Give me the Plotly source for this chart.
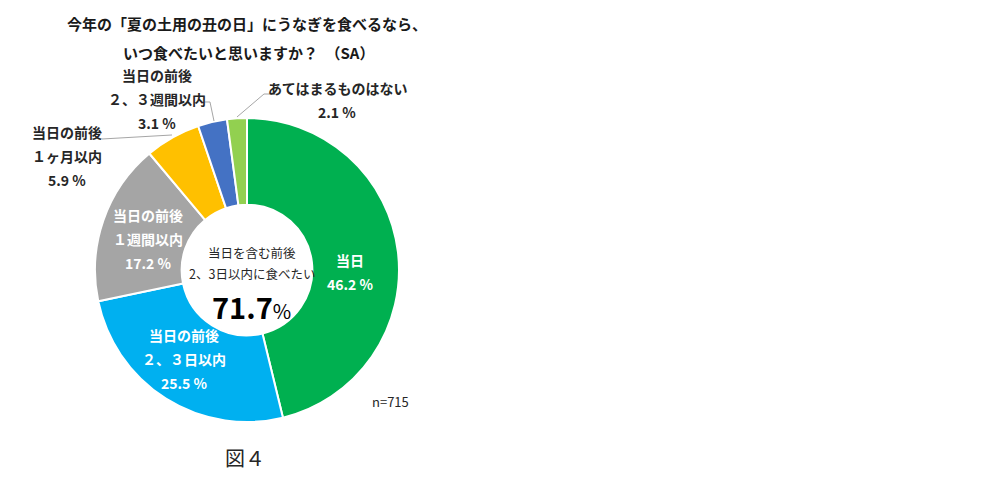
import plotly.graph_objects as go

# data
labels = ['当日', '当日の前後 ２、３日以内', '当日の前後 １週間以内',
          '当日の前後 １ヶ月以内', '当日の前後 ２、３週間以内', 'あてはまるものはない']
values = [46.2, 25.5, 17.2, 5.9, 3.1, 2.1]
colors = ['#00B050', '#00B0F0', '#A5A5A5', '#FFC000', '#4472C4', '#92D050']
label_lines = [['当日'], ['当日の前後', '２、３日以内'], ['当日の前後', '１週間以内'],
               ['当日の前後', '１ヶ月以内'], ['当日の前後', '２、３週間以内'],
               ['あてはまるものはない']]

W, H = 983, 480
OFF = 8  # page body margin
FONT = 'Noto Sans CJK JP'


def px(x, y):
    return (x - OFF) / W, 1 - (y - OFF) / H


CX, CY, R = 247 - OFF, 270 - OFF, 152

fig = go.Figure(go.Pie(
    labels=labels, values=values, sort=False, direction='clockwise',
    hole=0.43, textinfo='none', hoverinfo='label+percent',
    marker=dict(colors=colors, line=dict(color='white', width=2)),
    domain=dict(x=[(CX - R) / W, (CX + R) / W],
                y=[1 - (CY + R) / H, 1 - (CY - R) / H]),
    showlegend=False,
))

annotations = []


def add_text(x, y, text, size=14, color='#262626', bold=True):
    xx, yy = px(x, y)
    if bold:
        text = '<b>' + text + '</b>'
    annotations.append(dict(x=xx, y=yy, xref='paper', yref='paper', text=text,
                            showarrow=False, xanchor='center', yanchor='middle',
                            font=dict(family=FONT, size=size, color=color)))


# label positions (px) for each slice, first line; lines spaced 24px
label_pos = [(350, 260, 'white'), (184, 335, 'white'), (148, 215, 'white'),
             (67, 132, '#262626'), (157, 75, '#262626'), (337, 88, '#262626')]
for lines, v, (x, y, c) in zip(label_lines, values, label_pos):
    for i, t in enumerate(lines + ['%.1f %%' % v]):
        add_text(x, y + i * 24, t, color=c)

# title
add_text(247, 23, '今年の「夏の土用の丑の日」にうなぎを食べるなら、', size=15, color='#1a1a1a')
add_text(248, 52, 'いつ食べたいと思いますか？　（SA）', size=15, color='#1a1a1a')

# centre text
add_text(252, 252, '当日を含む前後', size=12.5, color='#262626', bold=False)
add_text(252, 273, '2、3日以内に食べたい', size=12.5, color='#262626', bold=False)
add_text(251, 306, '<b><span style="font-size:29px">71.7</span></b>%', size=20,
         color='#000000', bold=False)

add_text(390, 401, 'n=715', size=13, color='#262626', bold=False)
add_text(245, 457, '図４', size=20, color='#262626', bold=False)

# leader lines
leaders = [[(102, 139), (172, 135)],
           [(205, 102), (210, 102), (214, 121)],
           [(270, 94), (264, 94), (237, 117)]]
shapes = []
for pts in leaders:
    path = 'M ' + ' L '.join('%f,%f' % px(x, y) for x, y in pts)
    shapes.append(dict(type='path', path=path, xref='paper', yref='paper',
                       line=dict(color='#A6A6A6', width=1)))

fig.update_layout(width=W, height=H, margin=dict(l=0, r=0, t=0, b=0),
                  paper_bgcolor='white', plot_bgcolor='white',
                  annotations=annotations, shapes=shapes,
                  font=dict(family=FONT))

fig.write_html('out.html')
